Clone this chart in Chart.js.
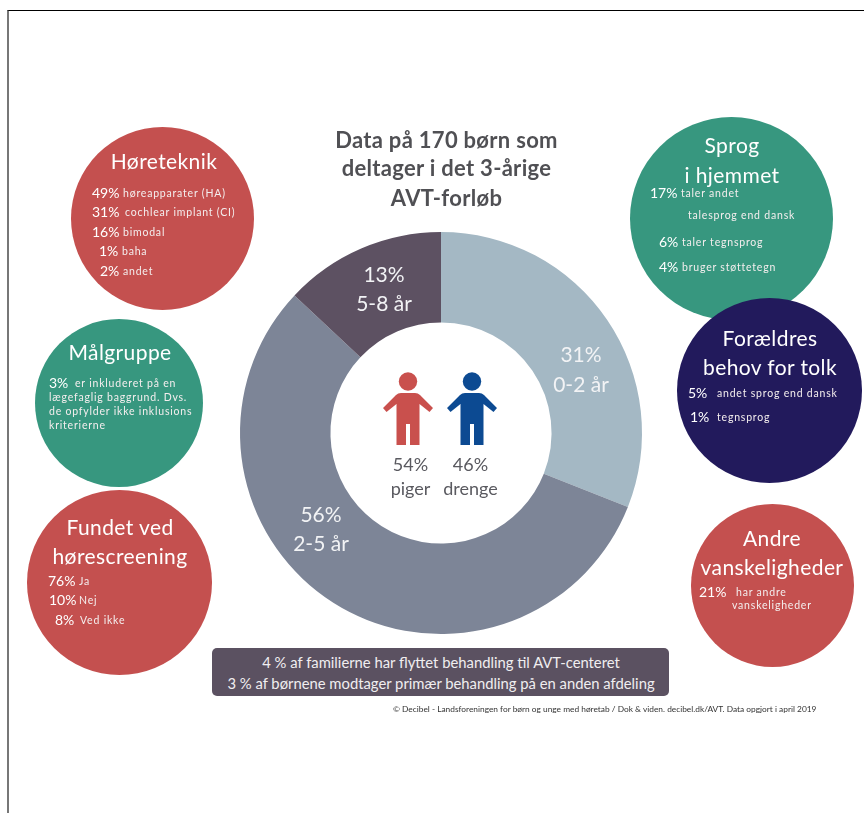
<!DOCTYPE html>
<html lang="da">
<head>
<meta charset="utf-8">
<title>AVT-forløb</title>
<script src="https://cdn.jsdelivr.net/npm/chart.js@4"></script>
<style>
  html, body { margin: 0; padding: 0; background: #fff; }
  #page { position: relative; width: 864px; height: 813px; overflow: hidden; font-family: Lato, "Open Sans", sans-serif; }
  #myChart { position: absolute; left: 0; top: 0; }
  #frame { position: absolute; left: 7px; top: 10px; width: 900px; height: 900px; border-top: 1px solid #000; border-left: 2px solid #777; }
  .disc { position: absolute; border-radius: 50%; }
  .txt { position: absolute; white-space: pre; color: #fff; line-height: 1; }
  .head { font-size: 21px; letter-spacing: .4px; transform: translateX(-50%); }
  .pct { font-size: 14px; }
  .lab { font-size: 10.5px; letter-spacing: .8px; color: #f4eeee; }
  .title { font-size: 22px; font-weight: 700; letter-spacing: .3px; color: #505054; transform: translateX(-50%); }
  .slice { font-size: 21px; color: #f2f3f5; transform: translateX(-50%); }
  .gender { font-size: 18px; color: #5a5a60; transform: translateX(-50%); }
  #note { position: absolute; left: 212px; top: 648px; width: 457px; height: 48px; background: #5b5161; border-radius: 5px; }
  .note { font-size: 14.8px; color: #f0eef0; transform: translateX(-50%); }
  .source { font-size: 8.35px; color: #333; }
</style>
</head>
<body>
<div id="page">
  <div id="frame"></div>
  <canvas id="myChart" width="864" height="813"></canvas>
</div>
<script>
  const ageLabels = ["0-2 år", "2-5 år", "5-8 år"];
  const ageValues = [31, 56, 13];
  const ageColors = ["#a4b8c4", "#7d8597", "#5d5162"];

  const titleLines = ["Data på 170 børn som", "deltager i det 3-årige", "AVT-forløb"];

  const genderLabels = ["piger", "drenge"];
  const genderValues = [54, 46];

  const hearingTech = ["høreapparater (HA)", "cochlear implant (CI)", "bimodal", "baha", "andet"];
  const hearingTechValues = [49, 31, 16, 1, 2];
  const homeLanguage = ["taler andet", "talesprog end dansk", "taler tegnsprog", "bruger støttetegn"];
  const homeLanguageValues = [17, null, 6, 4];
  const targetGroup = ["er inkluderet på en", "lægefaglig baggrund. Dvs.", "de opfylder ikke inklusions", "kriterierne"];
  const targetGroupValues = [3, null, null, null];
  const interpreter = ["andet sprog end dansk", "tegnsprog"];
  const interpreterValues = [5, 1];
  const screening = ["Ja", "Nej", "Ved ikke"];
  const screeningValues = [76, 10, 8];
  const otherDifficulties = ["har andre", "vanskeligheder"];
  const otherDifficultiesValues = [21, null];

  const noteLines = [
    "4 % af familierne har flyttet behandling til AVT-centeret",
    "3 % af børnene modtager primær behandling på en anden afdeling",
  ];
  const sourceLine = "© Decibel - Landsforeningen for børn og unge med høretab / Dok & viden. decibel.dk/AVT. Data opgjort i april 2019";

  const page = document.getElementById("page");

  function addText(text, x, y, cls) {
    const el = document.createElement("div");
    el.className = "txt " + cls;
    el.textContent = text;
    el.style.left = x + "px";
    el.style.top = y + "px";
    page.appendChild(el);
  }

  // one list of rows: [percent x, label x, centre y] per row
  function addRows(labels, values, spots) {
    labels.forEach((t, i) => {
      const [px, lx, y] = spots[i];
      if (values[i] !== null) addText(values[i] + "%", px, y - 7, "pct");
      addText(t, lx, y - 5, "lab");
    });
  }

  function addDisc(cx, cy, r, color) {
    const el = document.createElement("div");
    el.className = "disc";
    el.style.cssText = `left:${cx - r}px;top:${cy - r}px;width:${2 * r}px;height:${2 * r}px;background:${color}`;
    page.appendChild(el);
  }

  const red = "#c4504f";
  const green = "#37977f";
  const navy = "#221a5c";

  // side panels
  addDisc(162.5, 218.5, 91.5, red);
  addDisc(731.5, 218, 101.5, green);
  addDisc(769.5, 390, 92.5, navy);
  addDisc(119, 403, 84, green);
  addDisc(119, 582.5, 92.5, red);
  addDisc(772.5, 585, 81.5, red);

  addText("Høreteknik", 164, 150, "head");
  addRows(hearingTech, hearingTechValues, [[92, 123, 193], [92, 125, 212], [92, 123, 232], [99, 122, 251], [100, 123, 271]]);

  addText("Sprog", 732, 134, "head");
  addText("i hjemmet", 732, 164, "head");
  addRows(homeLanguage, homeLanguageValues, [[650, 681, 193], [0, 688, 215], [659, 682, 242], [659, 682, 267]]);

  addText("Forældres", 770, 327, "head");
  addText("behov for tolk", 770, 356, "head");
  addRows(interpreter, interpreterValues, [[688, 717, 393], [690, 717, 417]]);

  addText("Målgruppe", 120, 341, "head");
  addRows(targetGroup, targetGroupValues, [[49, 75, 383], [0, 49, 397], [0, 49, 411], [0, 49, 425]]);

  addText("Fundet ved", 120, 516, "head");
  addText("hørescreening", 120, 545, "head");
  addRows(screening, screeningValues, [[48, 79, 581], [49, 79, 600], [55, 80, 620]]);

  addText("Andre", 772, 527, "head");
  addText("vanskeligheder", 772, 556, "head");
  addRows(otherDifficulties, otherDifficultiesValues, [[699, 736, 592], [0, 732, 605]]);

  // heading above the ring
  const titleY = [129, 157, 187];
  titleLines.forEach((t, i) => addText(t, 446.5, titleY[i], "title"));

  // ring labels
  const sliceSpots = [[581, 343, 373], [321, 503, 532], [384, 263, 292]];
  ageLabels.forEach((t, i) => {
    const [x, y1, y2] = sliceSpots[i];
    addText(ageValues[i] + "%", x, y1, "slice");
    addText(t, x, y2, "slice");
  });

  const ctx = document.getElementById("myChart").getContext("2d");
  new Chart(ctx, {
    type: "doughnut",
    data: {
      labels: ageLabels,
      datasets: [{
        data: ageValues,
        backgroundColor: ageColors,
        borderWidth: 0,
      }],
    },
    options: {
      responsive: false,
      animation: false,
      cutout: "55%",
      layout: { padding: { left: 240, right: 222, top: 232, bottom: 179 } },
      plugins: { legend: { display: false }, tooltip: { enabled: false } },
    },
  });

  // two figures in the hole of the ring
  function addFigure(x, y, color) {
    const ns = "http://www.w3.org/2000/svg";
    const svg = document.createElementNS(ns, "svg");
    svg.setAttribute("width", 54);
    svg.setAttribute("height", 74);
    svg.setAttribute("viewBox", "0 0 54 74");
    svg.style.cssText = `position:absolute;left:${x}px;top:${y}px`;
    svg.innerHTML = `<circle cx="27" cy="9.5" r="9.2" fill="${color}"/>
      <path d="M20 21 H34 Q37 21 39 23 L52 36 L48.5 40 L38.5 32 V73 H29 V52 H25 V73 H15.5 V32 L5.5 40 L2 36 L15 23 Q17 21 20 21 Z" fill="${color}"/>`;
    page.appendChild(svg);
  }
  addFigure(381, 372, "#c9504d");
  addFigure(445, 372, "#0c4a92");

  const genderX = [410.5, 470.5];
  genderLabels.forEach((t, i) => {
    addText(genderValues[i] + "%", genderX[i], 455, "gender");
    addText(t, genderX[i], 479, "gender");
  });

  // note box and source line
  const box = document.createElement("div");
  box.id = "note";
  page.appendChild(box);
  addText(noteLines[0], 441, 655, "note");
  addText(noteLines[1], 441, 676, "note");
  addText(sourceLine, 393, 705, "source");
</script>
</body>
</html>
